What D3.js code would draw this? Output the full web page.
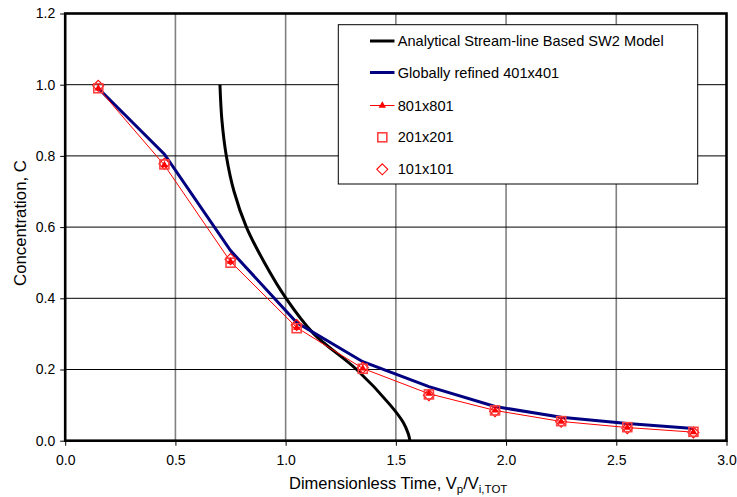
<!DOCTYPE html>
<html>
<head>
<meta charset="utf-8">
<script src="https://cdn.jsdelivr.net/npm/d3@7/dist/d3.min.js"></script>
<style>
  html, body { margin: 0; padding: 0; background: #fff; }
  svg { display: block; font-family: "Liberation Sans", Arial, sans-serif; }
</style>
</head>
<body>
<svg id="chart" width="737" height="497"></svg>
<script>
// ---- data ----
const timeSteps = [0.15, 0.45, 0.75, 1.05, 1.35, 1.65, 1.95, 2.25, 2.55, 2.85];
const global401 = [0.99, 0.805, 0.534, 0.332, 0.222, 0.152, 0.096, 0.066, 0.048, 0.034];
const grid801 = [0.99, 0.774, 0.503, 0.318, 0.203, 0.132, 0.085, 0.054, 0.037, 0.024];
const grid201 = [0.99, 0.776, 0.500, 0.316, 0.202, 0.130, 0.085, 0.055, 0.038, 0.025];
const grid101 = [0.997, 0.778, 0.510, 0.325, 0.205, 0.128, 0.083, 0.053, 0.035, 0.023];
const analyticalT = [0.702, 0.711, 0.731, 0.766, 0.822, 0.904, 1.002, 1.128, 1.322, 1.475, 1.535, 1.556, 1.564];
const analyticalC = [1.00, 0.90, 0.80, 0.70, 0.60, 0.50, 0.40, 0.30, 0.20, 0.10, 0.05, 0.02, 0.00];
const xTicks = [0, 0.5, 1.0, 1.5, 2.0, 2.5, 3.0];
const yTicks = [0, 0.2, 0.4, 0.6, 0.8, 1.0, 1.2];
const legendLabels = ["Analytical Stream-line Based SW2 Model", "Globally refined 401x401", "801x801", "201x201", "101x101"];

// ---- layout ----
const svg = d3.select("#chart");
const L = 65.2, R = 726.5, T = 13.5, B = 440.7;
const x = d3.scaleLinear().domain([0, 3]).range([L, R]);
const y = d3.scaleLinear().domain([0, 1.2]).range([B, T]);

// grid
const g = svg.append("g");
g.selectAll(".vg").data(xTicks.slice(1, -1)).enter().append("line")
  .attr("x1", d => x(d)).attr("x2", d => x(d)).attr("y1", T).attr("y2", B)
  .attr("stroke", "#808080").attr("stroke-width", 1.6);
g.selectAll(".hg").data(yTicks.slice(1, -1)).enter().append("line")
  .attr("x1", L).attr("x2", R).attr("y1", d => y(d)).attr("y2", d => y(d))
  .attr("stroke", "#000").attr("stroke-width", 1);

// axes
const xAxis = d3.axisBottom(x).tickValues(xTicks).tickFormat(d3.format(".1f")).tickSize(5).tickSizeOuter(0);
const yAxis = d3.axisLeft(y).tickValues(yTicks).tickFormat(d3.format(".1f")).tickSize(5).tickSizeOuter(0);
const gx = svg.append("g").attr("transform", `translate(0,${B})`).call(xAxis);
const gy = svg.append("g").attr("transform", `translate(${L},0)`).call(yAxis);
[gx, gy].forEach(a => {
  a.select(".domain").remove();
  a.selectAll(".tick line").attr("stroke", "#000").attr("stroke-width", 1);
  a.selectAll(".tick text").attr("fill", "#000").attr("font-size", 14)
    .attr("font-family", "'Liberation Sans', Arial, sans-serif");
});
gx.selectAll(".tick text").attr("dy", "1.2em");
gy.selectAll(".tick text").attr("x", -10);

// frame
svg.append("rect").attr("x", L).attr("y", T).attr("width", R - L).attr("height", B - T)
  .attr("fill", "none").attr("stroke", "#000").attr("stroke-width", 2.6);

// analytical curve
const analytical = analyticalT.map((t, i) => [t, analyticalC[i]]);
svg.append("path").datum(analytical)
  .attr("d", d3.line().x(d => x(d[0])).y(d => y(d[1])).curve(d3.curveCatmullRom.alpha(0.5)))
  .attr("fill", "none").attr("stroke", "#000").attr("stroke-width", 3);

// global 401
svg.append("path").datum(timeSteps.map((t, i) => [t, global401[i]]))
  .attr("d", d3.line().x(d => x(d[0])).y(d => y(d[1])))
  .attr("fill", "none").attr("stroke", "#000080").attr("stroke-width", 3);

// 801 line
const d801 = timeSteps.map((t, i) => [t, grid801[i]]);
svg.append("path").datum(d801)
  .attr("d", d3.line().x(d => x(d[0])).y(d => y(d[1])))
  .attr("fill", "none").attr("stroke", "#ff0000").attr("stroke-width", 1);

const tri = d3.symbol().type(d3.symbolTriangle).size(24);
const sq = 9, dm = 5.5;
function drawSquare(sel, cx, cy) {
  sel.append("rect").attr("x", cx - sq / 2).attr("y", cy - sq / 2).attr("width", sq).attr("height", sq)
    .attr("fill", "none").attr("stroke", "#ff4040").attr("stroke-width", 1.6);
}
function drawDiamond(sel, cx, cy) {
  sel.append("path").attr("d", `M${cx},${cy - dm}L${cx + dm},${cy}L${cx},${cy + dm}L${cx - dm},${cy}Z`)
    .attr("fill", "none").attr("stroke", "#ff0000").attr("stroke-width", 1.1);
}
function drawTri(sel, cx, cy) {
  sel.append("path").attr("d", tri()).attr("transform", `translate(${cx},${cy})`).attr("fill", "#ff0000");
}

const mk = svg.append("g");
timeSteps.forEach((t, i) => drawDiamond(mk, x(t), y(grid101[i])));
timeSteps.forEach((t, i) => drawSquare(mk, x(t), y(grid201[i])));
timeSteps.forEach((t, i) => drawTri(mk, x(t), y(grid801[i])));

// legend
const lg = svg.append("g");
lg.append("rect").attr("x", 338.3).attr("y", 24.7).attr("width", 359.4).attr("height", 159.3)
  .attr("fill", "#fff").attr("stroke", "#000").attr("stroke-width", 1);
const ly = [41, 72.5, 105.5, 137.3, 169.3];
legendLabels.forEach((lab, i) => {
  lg.append("text").attr("x", 397.7).attr("y", ly[i]).attr("dy", "0.35em")
    .attr("font-size", 14.6).attr("fill", "#000").text(lab);
});
lg.append("line").attr("x1", 370).attr("x2", 394.5).attr("y1", ly[0]).attr("y2", ly[0]).attr("stroke", "#000").attr("stroke-width", 3);
lg.append("line").attr("x1", 370).attr("x2", 394.5).attr("y1", ly[1]).attr("y2", ly[1]).attr("stroke", "#000080").attr("stroke-width", 3);
lg.append("line").attr("x1", 370).attr("x2", 394.5).attr("y1", ly[2]).attr("y2", ly[2]).attr("stroke", "#ff0000").attr("stroke-width", 1);
drawTri(lg, 382.3, ly[2]);
drawSquare(lg, 382.3, ly[3]);
drawDiamond(lg, 382.3, ly[4]);

// axis titles
svg.append("text").attr("transform", `translate(26,223) rotate(-90)`)
  .attr("text-anchor", "middle").attr("font-size", 16.8).attr("fill", "#000").text("Concentration, C");
const xt = svg.append("text").attr("x", 289).attr("y", 489)
  .attr("text-anchor", "start").attr("font-size", 16.5).attr("fill", "#000");
xt.append("tspan").text("Dimensionless Time, V");
xt.append("tspan").attr("font-size", 11.5).attr("dy", 4).text("p");
xt.append("tspan").attr("dy", -4).text("/V");
xt.append("tspan").attr("font-size", 11.5).attr("dy", 4).text("i,TOT");
</script>
</body>
</html>
